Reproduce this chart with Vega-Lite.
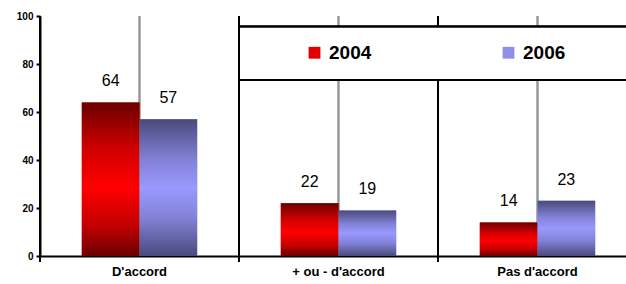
{
  "$schema": "https://vega.github.io/schema/vega-lite/v6.json",
  "width": 586,
  "height": 240,
  "autosize": {"type": "none"},
  "padding": {"left": 40, "top": 16, "right": 0, "bottom": 28},
  "background": "white",
  "config": {
    "view": {"stroke": null},
    "font": "Liberation Sans"
  },
  "data": {
    "values": [
      {"cat": "D'accord", "year": "2004", "value": 64},
      {"cat": "D'accord", "year": "2006", "value": 57},
      {"cat": "+ ou - d'accord", "year": "2004", "value": 22},
      {"cat": "+ ou - d'accord", "year": "2006", "value": 19},
      {"cat": "Pas d'accord", "year": "2004", "value": 14},
      {"cat": "Pas d'accord", "year": "2006", "value": 23}
    ]
  },
  "encoding": {
    "x": {
      "field": "cat",
      "type": "nominal",
      "sort": ["D'accord", "+ ou - d'accord", "Pas d'accord"],
      "scale": {"range": [0, 597], "paddingInner": 0, "paddingOuter": 0},
      "axis": {
        "title": null,
        "labelAngle": 0,
        "labelFont": "Liberation Sans",
        "labelFontWeight": "bold",
        "labelFontSize": 13,
        "labelColor": "black",
        "labelPadding": 9,
        "ticks": false,
        "domainColor": "black",
        "domainWidth": 2
      }
    }
  },
  "layer": [
    {
      "mark": {"type": "rule", "color": "#999999", "strokeWidth": 2},
      "encoding": {
        "x": {"field": "cat", "type": "nominal", "sort": ["D'accord", "+ ou - d'accord", "Pas d'accord"], "bandPosition": 0.5},
        "y": {"datum": 0, "type": "quantitative"},
        "y2": {"datum": 100}
      }
    },
    {
      "mark": {"type": "rule", "color": "black", "strokeWidth": 2},
      "encoding": {
        "x": {"field": "cat", "type": "nominal", "sort": ["D'accord", "+ ou - d'accord", "Pas d'accord"], "bandPosition": 0},
        "y": {"datum": -2.5, "type": "quantitative"},
        "y2": {"datum": 100}
      }
    },
    {
      "mark": {"type": "bar"},
      "encoding": {
        "xOffset": {"field": "year", "type": "nominal", "scale": {"domain": ["2004", "2006"], "paddingInner": 0, "paddingOuter": 0.725}},
        "y": {
          "field": "value",
          "type": "quantitative",
          "scale": {"domain": [0, 100], "nice": false},
          "axis": {
            "title": null,
            "values": [0, 20, 40, 60, 80, 100],
            "labelFont": "Liberation Sans",
            "labelFontWeight": "bold",
            "labelFontSize": 10,
            "labelColor": "black",
            "labelPadding": 3,
            "tickSize": 4,
            "tickColor": "black",
            "tickWidth": 2,
            "domainColor": "black",
            "domainWidth": 2,
            "grid": false
          }
        },
        "color": {
          "field": "year",
          "type": "nominal",
          "scale": {"domain": ["2004", "2006"], "range": ["#e00000", "#8f8fe6"]},
          "legend": {
            "title": null,
            "orient": "none",
            "direction": "horizontal",
            "columns": 2,
            "legendX": 265,
            "legendY": 27,
            "padding": 0,
            "symbolType": "square",
            "symbolSize": 140,
            "symbolStrokeWidth": 0,
            "symbolOpacity": 1,
            "labelFont": "Liberation Sans",
            "labelFontWeight": "bold",
            "labelFontSize": 19,
            "labelColor": "black",
            "labelOffset": 5,
            "columnPadding": 127
          }
        }
      }
    },
    {
      "transform": [{"filter": "datum.year === '2004'"}],
      "mark": {
        "type": "bar",
        "fill": {
          "gradient": "linear", "x1": 0, "y1": 0, "x2": 0, "y2": 1,
          "stops": [
            {"offset": 0, "color": "#6a0000"},
            {"offset": 0.3, "color": "#d00000"},
            {"offset": 0.55, "color": "#ff0000"},
            {"offset": 0.8, "color": "#c40000"},
            {"offset": 1, "color": "#6a0000"}
          ]
        }
      },
      "encoding": {
        "xOffset": {"field": "year", "type": "nominal", "scale": {"domain": ["2004", "2006"], "paddingInner": 0, "paddingOuter": 0.725}},
        "y": {"field": "value", "type": "quantitative"}
      }
    },
    {
      "transform": [{"filter": "datum.year === '2006'"}],
      "mark": {
        "type": "bar",
        "fill": {
          "gradient": "linear", "x1": 0, "y1": 0, "x2": 0, "y2": 1,
          "stops": [
            {"offset": 0, "color": "#4a4a7c"},
            {"offset": 0.3, "color": "#8282d8"},
            {"offset": 0.5, "color": "#9999ff"},
            {"offset": 0.72, "color": "#8282d8"},
            {"offset": 1, "color": "#4a4a7c"}
          ]
        }
      },
      "encoding": {
        "xOffset": {"field": "year", "type": "nominal", "scale": {"domain": ["2004", "2006"], "paddingInner": 0, "paddingOuter": 0.725}},
        "y": {"field": "value", "type": "quantitative"}
      }
    },
    {
      "mark": {"type": "text", "fontSize": 16, "font": "Liberation Sans", "color": "black", "baseline": "alphabetic", "dy": -16},
      "encoding": {
        "xOffset": {"field": "year", "type": "nominal", "scale": {"domain": ["2004", "2006"], "paddingInner": 0, "paddingOuter": 0.725}},
        "y": {"field": "value", "type": "quantitative"},
        "text": {"field": "value", "type": "quantitative"}
      }
    },
    {
      "mark": {"type": "rect", "fill": "white", "stroke": "black", "strokeWidth": 2},
      "encoding": {
        "x": {"datum": "+ ou - d'accord", "type": "nominal", "bandPosition": 0},
        "x2": {"datum": "Pas d'accord", "bandPosition": 1},
        "y": {"datum": 95.5, "type": "quantitative"},
        "y2": {"datum": 73.3}
      }
    }
  ]
}
